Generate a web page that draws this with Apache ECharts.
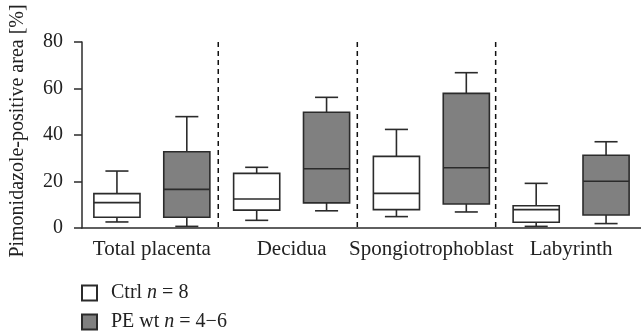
<!DOCTYPE html>
<html>
<head>
<meta charset="utf-8">
<script src="https://cdn.jsdelivr.net/npm/echarts@6/dist/echarts.min.js"></script>
<style>
  html, body { margin: 0; padding: 0; background: #fff; }
  #chart { width: 641px; height: 332px; }
</style>
</head>
<body>
<div id="chart"></div>
<script>
// regions of the placenta, each with a Ctrl and a PE box
var groups = ['Total placenta', 'Decidua', 'Spongiotrophoblast', 'Labyrinth'];
var yTicks = [0, 20, 40, 60, 80];

// [low whisker, Q1, median, Q3, high whisker] per group
var ctrlBoxes = [
    [2.6, 4.6, 10.9, 14.8, 24.5],
    [3.3, 7.7, 12.5, 23.5, 26.1],
    [4.9, 7.9, 14.9, 30.8, 42.4],
    [0.7, 2.5, 7.9, 9.6, 19.2]
];
var peBoxes = [
    [0.7, 4.6, 16.6, 32.8, 47.9],
    [7.4, 10.8, 25.5, 49.8, 56.2],
    [6.9, 10.3, 25.9, 57.9, 66.8],
    [1.9, 5.6, 20.1, 31.3, 37.1]
];

// dashed separators, in slot units of the 8 box slots
var separators = [1.45, 3.44, 5.42];

var serif = '"Liberation Serif", "DejaVu Serif", serif';
var ink = '#2b2b2b';

function slotData(boxes, offset) {
    return boxes.map(function (b, i) {
        return [i * 2 + offset].concat(b);
    });
}

function renderBox(params, api) {
    var x = api.value(0);
    var lo = api.coord([x, api.value(1)]);
    var q1 = api.coord([x, api.value(2)]);
    var md = api.coord([x, api.value(3)]);
    var q3 = api.coord([x, api.value(4)]);
    var hi = api.coord([x, api.value(5)]);
    var w = api.size([1, 0])[0] * 0.66;
    var cx = lo[0];
    var line = { stroke: ink, lineWidth: 1.6 };
    return {
        type: 'group',
        children: [
            { type: 'line', shape: { x1: cx, y1: hi[1], x2: cx, y2: q3[1] }, style: line },
            { type: 'line', shape: { x1: cx, y1: q1[1], x2: cx, y2: lo[1] }, style: line },
            { type: 'line', shape: { x1: cx - w / 4, y1: hi[1], x2: cx + w / 4, y2: hi[1] }, style: line },
            { type: 'line', shape: { x1: cx - w / 4, y1: lo[1], x2: cx + w / 4, y2: lo[1] }, style: line },
            {
                type: 'rect',
                shape: { x: cx - w / 2, y: q3[1], width: w, height: q1[1] - q3[1] },
                style: { fill: api.visual('color'), stroke: ink, lineWidth: 1.6 }
            },
            { type: 'line', shape: { x1: cx - w / 2, y1: md[1], x2: cx + w / 2, y2: md[1] }, style: line }
        ]
    };
}

function renderSeparator(params, api) {
    var x = api.value(0);
    var top = api.coord([x, yTicks[yTicks.length - 1]]);
    var bottom = api.coord([x, yTicks[0]]);
    return {
        type: 'line',
        shape: { x1: top[0], y1: top[1], x2: bottom[0], y2: bottom[1] },
        style: { stroke: '#111', lineWidth: 1.5, lineDash: [5, 4] }
    };
}

var chart = echarts.init(document.getElementById('chart'));

var slots = [];
for (var i = 0; i < groups.length * 2; i++) slots.push(String(i));

var legendText = { fontFamily: serif, fontSize: 20, lineHeight: 18, color: '#222' };

function legendAt(name, top, label) {
    return {
        left: 81,
        top: top,
        padding: 0,
        itemWidth: 15,
        itemHeight: 15,
        icon: 'rect',
        data: [name],
        formatter: function () { return label; },
        textStyle: {
            rich: {
                p: Object.assign({ padding: [0, 0, 0, 9] }, legendText),
                a: legendText,
                i: Object.assign({ fontStyle: 'italic' }, legendText)
            }
        }
    };
}

var option = {
    animation: false,
    grid: { left: 81, right: 0, top: 42, bottom: 104 },
    legend: [
        legendAt('Ctrl', 283, '{p|Ctrl }{i|n}{a| = 8}'),
        legendAt('PE wt', 312, '{p|PE wt }{i|n}{a| = 4\u22126}')
    ],
    xAxis: [
        {
            type: 'category',
            data: slots,
            position: 'bottom',
            axisLine: { lineStyle: { color: ink, width: 1.5 } },
            axisTick: { alignWithLabel: true, length: 7, lineStyle: { color: ink, width: 1.5 } },
            axisLabel: { show: false }
        },
        {
            type: 'category',
            data: groups,
            position: 'bottom',
            axisLine: { show: false },
            axisTick: { show: false },
            axisLabel: { fontFamily: serif, fontSize: 21, color: '#222', margin: 11, interval: 0 }
        },
        {
            type: 'value',
            show: false,
            position: 'top',
            min: -0.5,
            max: groups.length * 2 - 0.5
        }
    ],
    yAxis: {
        type: 'value',
        min: 0,
        max: 80,
        interval: 20,
        name: 'Pimonidazole-positive area [%]',
        nameLocation: 'middle',
        nameGap: 54,
        nameTextStyle: { fontFamily: serif, fontSize: 20, color: '#222', padding: [0, 0, 0, 8] },
        axisLine: { show: true, onZero: false, lineStyle: { color: ink, width: 1.5 } },
        axisTick: { show: true, length: 8, lineStyle: { color: ink, width: 1.5 } },
        axisLabel: { fontFamily: serif, fontSize: 20, color: '#222', margin: 19 },
        splitLine: { show: false }
    },
    series: [
        {
            name: 'Ctrl',
            type: 'custom',
            xAxisIndex: 0,
            renderItem: renderBox,
            encode: { x: 0, y: [1, 2, 3, 4, 5] },
            itemStyle: { color: '#ffffff', borderColor: ink, borderWidth: 1.2 },
            data: slotData(ctrlBoxes, 0)
        },
        {
            name: 'PE wt',
            type: 'custom',
            xAxisIndex: 0,
            renderItem: renderBox,
            encode: { x: 0, y: [1, 2, 3, 4, 5] },
            itemStyle: { color: '#808080', borderColor: ink, borderWidth: 1.2 },
            data: slotData(peBoxes, 1)
        },
        {
            name: 'sep',
            type: 'custom',
            xAxisIndex: 2,
            renderItem: renderSeparator,
            encode: { x: 0 },
            data: separators.map(function (s) { return [s]; }),
            silent: true
        }
    ]
};

chart.setOption(option);
</script>
</body>
</html>
